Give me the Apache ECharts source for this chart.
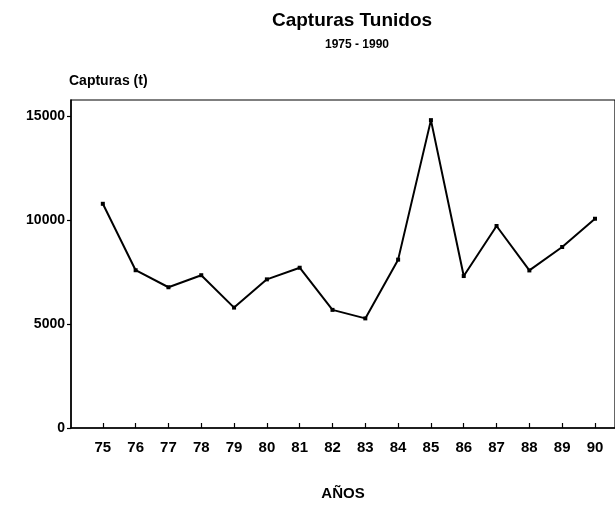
<!DOCTYPE html>
<html>
<head>
<meta charset="utf-8">
<script src="https://cdn.jsdelivr.net/npm/echarts@6/dist/echarts.min.js"></script>
<style>
html,body{margin:0;padding:0;background:#fff;}
#chart{width:615px;height:506px;}
</style>
</head>
<body>
<div id="chart"></div>
<script>
// Years (two-digit labels) and catches in tonnes
const years = [75, 76, 77, 78, 79, 80, 81, 82, 83, 84, 85, 86, 87, 88, 89, 90];
const capturas = [10800, 7600, 6780, 7360, 5800, 7160, 7720, 5690, 5280, 8110, 14830, 7320, 9730, 7590, 8720, 10080];
const yTicks = [0, 5000, 10000, 15000];

const FONT = '"Liberation Sans", Arial, sans-serif';
const chart = echarts.init(document.getElementById('chart'), null, {renderer: 'canvas'});

chart.setOption({
  backgroundColor: '#ffffff',
  animation: false,
  title: [
    {
      text: 'Capturas Tunidos',
      left: 347, top: 6, textAlign: 'center',
      textStyle: {fontFamily: FONT, fontWeight: 'bold', fontSize: 19, color: '#000'}
    },
    {
      text: '1975 - 1990',
      left: 352, top: 34, textAlign: 'center',
      textStyle: {fontFamily: FONT, fontWeight: 'bold', fontSize: 12, color: '#000'}
    }
  ],
  grid: {
    left: 71, right: -2, top: 100, bottom: 69,
    show: true, borderColor: '#000', borderWidth: 1.2, backgroundColor: 'transparent'
  },
  xAxis: {
    type: 'value',
    min: 74.03, max: 90.61,
    name: 'AÑOS',
    nameLocation: 'middle',
    nameGap: 58,
    nameTextStyle: {fontFamily: FONT, fontWeight: 'bold', fontSize: 15, color: '#000'},
    axisLine: {show: true, lineStyle: {color: '#000', width: 1.5}},
    axisTick: {show: true, inside: true, length: 5, customValues: years, lineStyle: {color: '#000', width: 1.2}},
    axisLabel: {
      customValues: years,
      margin: 12,
      fontFamily: FONT, fontWeight: 'bold', fontSize: 15, color: '#000',
      formatter: v => String(Math.round(v))
    },
    splitLine: {show: false}
  },
  yAxis: {
    type: 'value',
    min: 0, max: 15800,
    name: 'Capturas (t)',
    nameLocation: 'end',
    nameGap: 12,
    nameTextStyle: {fontFamily: FONT, fontWeight: 'bold', fontSize: 14, color: '#000', align: 'left', padding: [0, 0, 0, -2]},
    axisLine: {show: true, lineStyle: {color: '#000', width: 1.5}},
    axisTick: {show: true, length: 4, customValues: yTicks, lineStyle: {color: '#000', width: 1.2}},
    axisLabel: {
      customValues: yTicks,
      margin: 6,
      fontFamily: FONT, fontWeight: 'bold', fontSize: 14, color: '#000',
      formatter: v => String(Math.round(v))
    },
    splitLine: {show: false}
  },
  series: [{
    type: 'line',
    data: years.map((y, i) => [y, capturas[i]]),
    symbol: 'rect',
    symbolSize: 4,
    showSymbol: true,
    lineStyle: {color: '#000', width: 2},
    itemStyle: {color: '#000'}
  }]
});
</script>
</body>
</html>
